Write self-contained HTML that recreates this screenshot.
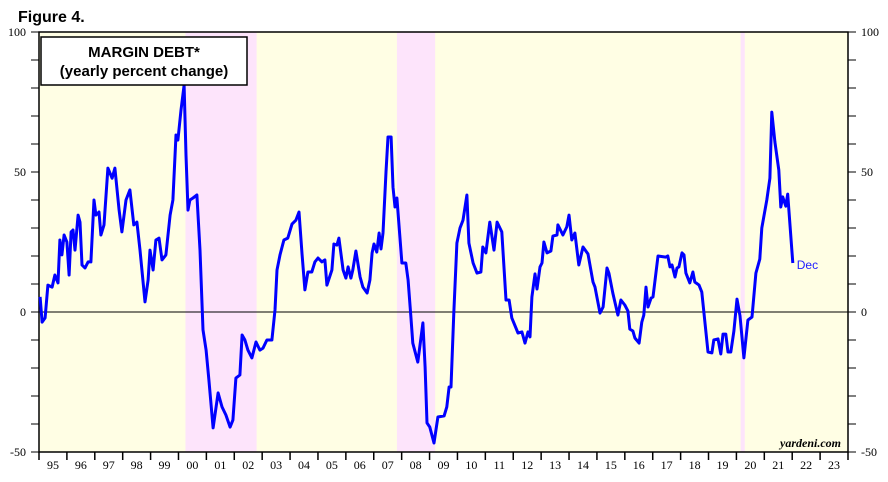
<!DOCTYPE html>
<html><head><meta charset="utf-8"><style>
html,body{margin:0;padding:0;background:#fff;width:888px;height:482px;overflow:hidden}
svg{display:block}
</style></head><body>
<svg width="888" height="482" id="chart" font-family="Liberation Serif, serif">
<text x="18" y="22" font-family="Liberation Sans, sans-serif" font-weight="bold" font-size="16">Figure 4.</text>
<g id="plot"></g>
</svg>
<script>
const recessions=[[2000.25,2002.8],[2007.83,2009.2],[2020.15,2020.3]];
const yTicks=[100,50,0,-50];
const yearLabels=["95","96","97","98","99","00","01","02","03","04","05","06","07","08","09","10","11","12","13","14","15","16","17","18","19","20","21","22","23"];
const dates=[0.04,0.11,0.22,0.32,0.47,0.57,0.68,0.75,0.82,0.90,1.00,1.08,1.15,1.22,1.29,1.40,1.47,1.54,1.65,1.76,1.86,1.97,2.04,2.15,2.22,2.33,2.47,2.62,2.72,2.87,2.97,3.12,3.26,3.40,3.51,3.62,3.80,3.91,3.98,4.09,4.19,4.30,4.41,4.55,4.70,4.80,4.91,4.98,5.09,5.20,5.27,5.34,5.41,5.52,5.66,5.77,5.88,5.99,6.09,6.24,6.42,6.56,6.70,6.85,6.95,7.06,7.20,7.28,7.38,7.49,7.63,7.78,7.92,8.03,8.17,8.35,8.46,8.53,8.64,8.78,8.92,9.07,9.21,9.32,9.43,9.53,9.64,9.78,9.89,10.00,10.14,10.25,10.32,10.50,10.57,10.68,10.75,10.90,11.00,11.08,11.18,11.25,11.36,11.51,11.61,11.76,11.86,11.94,12.01,12.11,12.19,12.26,12.33,12.44,12.51,12.62,12.69,12.76,12.83,13.01,13.15,13.23,13.33,13.40,13.58,13.76,13.84,13.91,14.01,14.16,14.30,14.52,14.62,14.70,14.77,14.87,14.98,15.09,15.20,15.34,15.41,15.56,15.70,15.84,15.91,16.02,16.16,16.31,16.42,16.59,16.74,16.85,16.95,17.17,17.31,17.42,17.53,17.60,17.67,17.78,17.85,17.96,18.03,18.10,18.21,18.35,18.42,18.57,18.60,18.78,18.92,19.00,19.10,19.21,19.35,19.50,19.68,19.86,19.93,20.11,20.22,20.36,20.43,20.57,20.75,20.86,21.00,21.11,21.18,21.29,21.36,21.51,21.61,21.68,21.76,21.83,21.94,22.01,22.19,22.47,22.54,22.62,22.69,22.80,22.87,22.94,23.05,23.12,23.19,23.33,23.44,23.51,23.66,23.76,23.98,24.12,24.19,24.34,24.44,24.52,24.62,24.70,24.80,24.91,25.02,25.13,25.27,25.41,25.56,25.70,25.84,25.91,26.09,26.20,26.27,26.38,26.52,26.59,26.66,26.77,26.84,27.02];
const values=[5.4,-3.6,-2.1,9.6,8.9,13.2,10.4,25.7,20.4,27.5,25.0,13.2,28.6,29.3,22.1,34.6,32.1,16.8,15.7,17.9,17.9,40.0,34.6,35.7,27.5,31.1,51.4,47.8,51.4,36.4,28.6,40.0,43.6,31.1,32.1,22.1,3.6,11.4,22.1,15.0,25.7,26.4,18.6,20.4,34.6,40.0,63.2,61.4,72.1,81.0,56.0,36.4,40.0,40.7,41.8,22.1,-6.4,-13.6,-24.3,-41.4,-28.9,-33.9,-36.8,-41.1,-38.6,-23.6,-22.5,-8.2,-10.0,-13.6,-16.4,-10.7,-13.6,-12.9,-10.0,-10.0,0.7,15.0,20.4,25.7,26.4,31.4,32.8,35.7,20.4,7.9,14.3,14.3,17.9,19.3,17.9,18.6,9.6,15.0,24.3,23.9,26.4,15.0,12.1,16.1,12.1,15.0,21.8,12.5,8.9,6.8,11.4,21.1,24.3,21.4,28.2,22.5,28.2,50.0,62.5,62.5,44.6,37.5,40.7,17.5,17.5,11.4,-1.8,-11.1,-17.9,-3.9,-19.6,-39.6,-41.1,-46.8,-37.5,-37.1,-33.9,-26.8,-26.8,-0.4,24.6,30.0,32.8,41.8,24.6,17.5,13.9,14.3,23.2,21.1,32.1,22.1,32.1,28.6,4.3,4.3,-2.1,-7.5,-7.1,-11.1,-7.1,-8.9,5.4,13.6,8.2,16.1,17.5,25.0,21.1,21.8,27.1,27.5,31.1,27.5,30.4,34.6,25.7,28.2,16.8,23.2,20.7,10.7,8.9,-0.4,1.8,15.7,13.9,6.8,-1.1,4.3,2.5,0.4,-6.1,-6.8,-9.3,-11.1,-3.6,-1.1,8.9,1.8,5.0,5.4,20.0,19.6,20.0,16.1,16.8,12.5,15.7,16.1,21.1,20.4,13.9,10.4,14.3,10.7,9.6,7.1,-14.3,-14.6,-10.0,-9.6,-15.0,-7.9,-7.9,-14.3,-14.3,-6.8,4.6,-1.4,-16.4,-2.9,-1.8,13.9,18.9,30.0,40.0,47.8,71.4,60.7,50.7,37.5,41.1,37.8,42.1,17.5];

const L=39,R=848,T=32,B=452,Y0=1995,Y1=2024,VMIN=-50,VMAX=100;
const x=t=>L+(t-Y0)/(Y1-Y0)*(R-L);
const y=v=>B-(v-VMIN)/(VMAX-VMIN)*(B-T);
const NS="http://www.w3.org/2000/svg";
const g=document.getElementById('plot');
function mk(tag,attrs,parent){const e=document.createElementNS(NS,tag);for(const k in attrs)e.setAttribute(k,attrs[k]);(parent||g).appendChild(e);return e;}

let e=mk('rect',{x:L,y:T,width:R-L,height:B-T,fill:'#fffee4'});


recessions.forEach(r=>{
  const el=mk('rect',{x:x(r[0]),y:T,width:x(r[1])-x(r[0]),height:B-T,fill:'#fde4fb'});
  
  
});
e=mk('line',{x1:L,x2:R,y1:y(0),y2:y(0),stroke:'#000','stroke-width':1});


// minor y ticks
for(let v=VMIN;v<=VMAX;v+=10){
  const t1=mk('line',{x1:L-8,x2:L,y1:y(v),y2:y(v),stroke:'#000'});
  
  
  const t2=mk('line',{x1:R,x2:R+8,y1:y(v),y2:y(v),stroke:'#000'});
  
  
}
yTicks.forEach(v=>{
  const a=mk('text',{x:L-13,y:y(v)+4,'text-anchor':'end','font-size':12});
  a.textContent=v;
  
  
  const b=mk('text',{x:R+13,y:y(v)+4,'text-anchor':'start','font-size':12});
  b.textContent=v;
  
  
});
for(let i=0;i<=Y1-Y0;i++){
  const tk=mk('line',{x1:x(Y0+i),x2:x(Y0+i),y1:B,y2:B+8,stroke:'#000','stroke-width':1.5});
  
  
}
yearLabels.forEach((s,i)=>{
  const tx=mk('text',{x:x(Y0+i+0.5),y:B+17,'text-anchor':'middle','font-size':12});
  tx.textContent=s;
  
  
});
e=mk('rect',{x:L,y:T,width:R-L,height:B-T,fill:'none',stroke:'#000','stroke-width':1.5});



const pts=dates.map((d,i)=>x(Y0+d).toFixed(1)+','+y(values[i]).toFixed(1)).join(' ');
e=mk('polyline',{points:pts,fill:'none',stroke:'#0000ff','stroke-width':3,'stroke-linejoin':'round'});


const lx=x(Y0+dates[dates.length-1]),ly=y(values[values.length-1]);
e=mk('text',{x:lx+4,y:ly+6,'font-family':'Liberation Sans, sans-serif','font-size':12,fill:'#2020ff'});
e.textContent='Dec';



// legend box
e=mk('rect',{x:41,y:37,width:206,height:48,fill:'#fff',stroke:'#000','stroke-width':1.5});


e=mk('text',{x:144,y:57,'text-anchor':'middle','font-family':'Liberation Sans, sans-serif','font-weight':'bold','font-size':15});
e.textContent='MARGIN DEBT*';


e=mk('text',{x:144,y:76,'text-anchor':'middle','font-family':'Liberation Sans, sans-serif','font-weight':'bold','font-size':15});
e.textContent='(yearly percent change)';


e=mk('text',{x:841,y:447,'text-anchor':'end','font-style':'italic','font-weight':'bold','font-size':12});
e.textContent='yardeni.com';


</script>
</body></html>
